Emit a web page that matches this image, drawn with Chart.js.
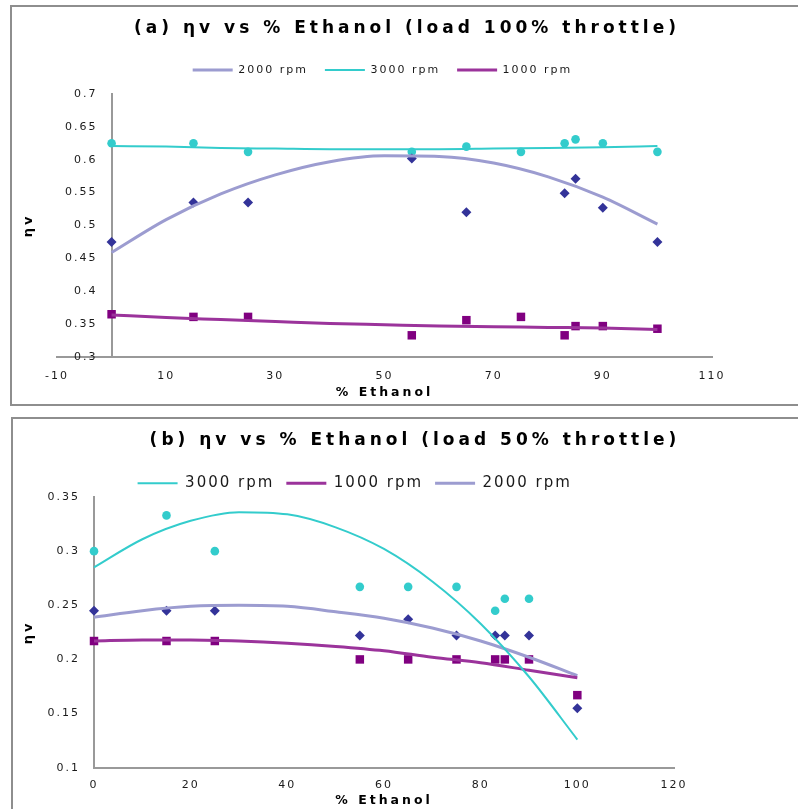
<!DOCTYPE html>
<html><head><meta charset="utf-8">
<script src="https://cdn.jsdelivr.net/npm/chart.js@4"></script>
<style>
html,body{margin:0;padding:0;background:#fff;width:798px;height:809px;overflow:hidden;}
.panel{position:absolute;border:2px solid #8e8e8e;box-sizing:border-box;}
#p1{left:10px;top:5px;width:800px;height:401px;}
#p2{left:11px;top:417px;width:800px;height:400px;}
canvas{position:absolute;left:0;}
#c1{top:0;} #c2{top:406px;}
</style></head><body>
<div class="panel" id="p1"></div><div class="panel" id="p2"></div>
<canvas id="c1" width="798" height="405"></canvas>
<canvas id="c2" width="798" height="403"></canvas>
<script>
// ---------- data ----------
const ethanol = [0, 15, 25, 55, 65, 75, 83, 85, 90, 100];
const trendX  = [0, 10, 20, 30, 40, 50, 60, 70, 80, 90, 100];

// (a) load 100% throttle
const a2000 = [0.475, 0.535, 0.535, 0.602, 0.520, null, 0.549, 0.571, 0.527, 0.475];
const a3000 = [0.625, 0.625, 0.612, 0.612, 0.620, 0.612, 0.625, 0.631, 0.625, 0.612];
const a1000 = [0.365, 0.361, 0.361, 0.333, 0.356, 0.361, 0.333, 0.347, 0.347, 0.343];
const a2000Trend = [0.459, 0.509, 0.548, 0.577, 0.597, 0.606, 0.605, 0.595, 0.574, 0.543, 0.502];
const a3000Trend = [0.621, 0.620, 0.618, 0.617, 0.616, 0.616, 0.616, 0.617, 0.618, 0.619, 0.621];
const a1000Trend = [0.364, 0.360, 0.357, 0.354, 0.351, 0.349, 0.347, 0.346, 0.345, 0.344, 0.342];
const aXTicks = [-10, 10, 30, 50, 70, 90, 110];
const aYTicks = [0.3, 0.35, 0.4, 0.45, 0.5, 0.55, 0.6, 0.65, 0.7];

// (b) load 50% throttle
const b3000 = [0.300, 0.333, 0.300, 0.267, 0.267, 0.267, 0.245, 0.256, 0.256, null];
const b1000 = [0.217, 0.217, 0.217, 0.200, 0.200, 0.200, 0.200, 0.200, 0.200, 0.167];
const b2000 = [0.245, 0.245, 0.245, 0.222, 0.237, 0.222, 0.222, 0.222, 0.222, 0.155];
const b3000Trend = [0.285, 0.311, 0.328, 0.336, 0.334, 0.322, 0.302, 0.272, 0.233, 0.184, 0.126];
const b1000Trend = [0.217, 0.218, 0.218, 0.217, 0.215, 0.212, 0.208, 0.202, 0.197, 0.190, 0.183];
const b2000Trend = [0.239, 0.245, 0.249, 0.250, 0.249, 0.244, 0.238, 0.229, 0.217, 0.202, 0.185];
const bXTicks = [0, 20, 40, 60, 80, 100, 120];
const bYTicks = [0.1, 0.15, 0.2, 0.25, 0.3, 0.35];

// ---------- styling ----------
const FAM = "'DejaVu Sans', Verdana, sans-serif";
Chart.defaults.font.family = FAM;
const CYAN = '#33CCCC', NAVY = '#333399', PURPLE = '#800080';
const LAV_LINE = '#9C9CD0', PUR_LINE = '#9B339B';
const AXIS = '#999999', TXT = '#1a1a1a';

function pts(xs, ys) { return xs.map((x, i) => ({x, y: ys[i]})).filter(p => p.y !== null); }
function trend(label, ys, color, w) {
  return {label, data: pts(trendX, ys), showLine: true, borderColor: color, backgroundColor: color,
          borderWidth: w, pointRadius: 0, cubicInterpolationMode: 'monotone', clip: false};
}
function marks(label, ys, color, style, r) {
  return {label, data: pts(ethanol, ys), showLine: false, pointStyle: style, pointRadius: r,
          backgroundColor: color, borderColor: color, borderWidth: 0, clip: false};
}

const textSpacing = {
  id: 'textSpacing',
  beforeLayout(chart, args, o) { chart.ctx.letterSpacing = o.base; },
  beforeDraw(chart, args, o) { chart.ctx.letterSpacing = o.base; },
  afterLayout(chart, args, o) {
    const wrap = (obj, name, sp, dx) => {
      if (!obj || obj['_sp_' + name]) return;
      const f = obj[name];
      obj[name] = function (...a) {
        const c = this.ctx; c.save();
        if (sp) c.letterSpacing = sp;
        if (dx) c.translate(dx, 0);
        const r = f.apply(this, a); c.restore(); return r;
      };
      obj['_sp_' + name] = true;
    };
    wrap(chart.titleBlock, 'draw', o.title, o.titleDx);
    Object.values(chart.scales).forEach(s => wrap(s, 'drawTitle', o.axisTitle, 0));
    wrap(chart.scales.y, 'drawLabels', null, o.yLabelDx);
    const lg = chart.legend;
    if (lg) { lg.left += o.dx; lg.right += o.dx; lg.top += o.dy; lg.bottom += o.dy; }
  }
};

function makeChart(id, cfg) {
  const tickFont = {family: FAM, size: 11};
  const boldTitle = {family: FAM, size: 12.5, weight: 'bold'};
  return new Chart(document.getElementById(id), {
    type: 'scatter',
    data: {datasets: cfg.datasets},
    options: {
      responsive: false, animation: false, events: [],
      layout: {padding: {left: cfg.padLeft, top: cfg.padTop, right: 0, bottom: 0}},
      plugins: {
        tooltip: {enabled: false},
        title: {display: true, text: cfg.title, color: '#000',
                font: {family: FAM, size: 17, weight: 'bold', lineHeight: 1.2},
                padding: {top: cfg.titleTop, bottom: cfg.titleBottom}},
        legend: {display: true, fullSize: false,
                 labels: {font: {family: FAM, size: cfg.legendSize}, color: TXT, usePointStyle: true,
                           pointStyle: 'line', pointStyleWidth: 40, padding: cfg.legendPad,
                           filter: item => item.datasetIndex < 3}},
        textSpacing: {base: '2px', title: '4px', axisTitle: '3px', dx: cfg.legendDx, dy: cfg.legendDy,
                      titleDx: cfg.titleDx, yLabelDx: -14}
      },
      scales: {
        x: {type: 'linear', position: 'bottom', min: cfg.xTicks[0], max: cfg.xTicks[cfg.xTicks.length - 1],
            afterBuildTicks: s => { s.ticks = cfg.xTicks.map(v => ({value: v})); },
            afterFit: s => { s.height = cfg.xHeight; },
            ticks: {font: tickFont, color: TXT, padding: cfg.xTickPad, maxRotation: 0, autoSkip: false,
                    callback: v => String(v)},
            grid: {display: false, drawTicks: false},
            border: {display: true, color: AXIS, width: 2},
            title: {display: true, text: '% Ethanol', font: boldTitle, color: '#000',
                    padding: {top: 0, bottom: cfg.xTitleBottom}}},
        y: {type: 'linear', position: {x: 0}, min: cfg.yTicks[0], max: cfg.yTicks[cfg.yTicks.length - 1],
            afterBuildTicks: s => { s.ticks = cfg.yTicks.map(v => ({value: v})); },
            ticks: {font: tickFont, color: TXT, padding: 0, autoSkip: false, callback: v => String(v)},
            grid: {display: false, drawTicks: false},
            border: {display: true, color: AXIS, width: 2}},
        yt: {type: 'linear', position: 'left', ticks: {display: false},
             grid: {display: false, drawTicks: false}, border: {display: false},
             title: {display: true, text: 'ηv', color: '#000', font: {family: FAM, size: 13, weight: 'bold'},
                     padding: {top: cfg.yTitleTop, bottom: 0}},
             afterFit: s => { s.width = cfg.leftWidth; }},
        yr: {type: 'linear', position: 'right', ticks: {display: false},
             grid: {display: false, drawTicks: false}, border: {display: false},
             afterFit: s => { s.width = cfg.rightWidth; }}
      }
    },
    plugins: [textSpacing]
  });
}

makeChart('c1', {
  title: '(a) ηv vs % Ethanol (load 100% throttle)',
  datasets: [
    trend('2000 rpm', a2000Trend, LAV_LINE, 3),
    trend('3000 rpm', a3000Trend, CYAN, 2),
    trend('1000 rpm', a1000Trend, PUR_LINE, 3),
    marks('2000 rpm data', a2000, NAVY, 'rectRot', 5),
    marks('3000 rpm data', a3000, CYAN, 'circle', 4.3),
    marks('1000 rpm data', a1000, PURPLE, 'rect', 6)
  ],
  padLeft: 12, padTop: 8, titleTop: 10, titleBottom: 17.6, titleDx: 2,
  legendSize: 11, legendPad: 17, legendDx: -2, legendDy: -8.5,
  xTicks: aXTicks, yTicks: aYTicks, xHeight: 48, xTickPad: 12.4, xTitleBottom: 5,
  yTitleTop: 8.7, leftWidth: 45, rightWidth: 86
});

makeChart('c2', {
  title: '(b) ηv vs % Ethanol (load 50% throttle)',
  datasets: [
    trend('3000 rpm', b3000Trend, CYAN, 2),
    trend('1000 rpm', b1000Trend, PUR_LINE, 3),
    trend('2000 rpm', b2000Trend, LAV_LINE, 3),
    marks('3000 rpm data', b3000, CYAN, 'circle', 4.3),
    marks('1000 rpm data', b1000, PURPLE, 'rect', 6),
    marks('2000 rpm data', b2000, NAVY, 'rectRot', 5)
  ],
  padLeft: 14, padTop: 14, titleTop: 10.1, titleBottom: 9.5, titleDx: 9,
  legendSize: 15, legendPad: 12, legendDx: -29.3, legendDy: 3.8,
  xTicks: bXTicks, yTicks: bYTicks, xHeight: 41.3, xTickPad: 11.2, xTitleBottom: 0.5,
  yTitleTop: 7.2, leftWidth: 80, rightWidth: 124
});
</script></body></html>
